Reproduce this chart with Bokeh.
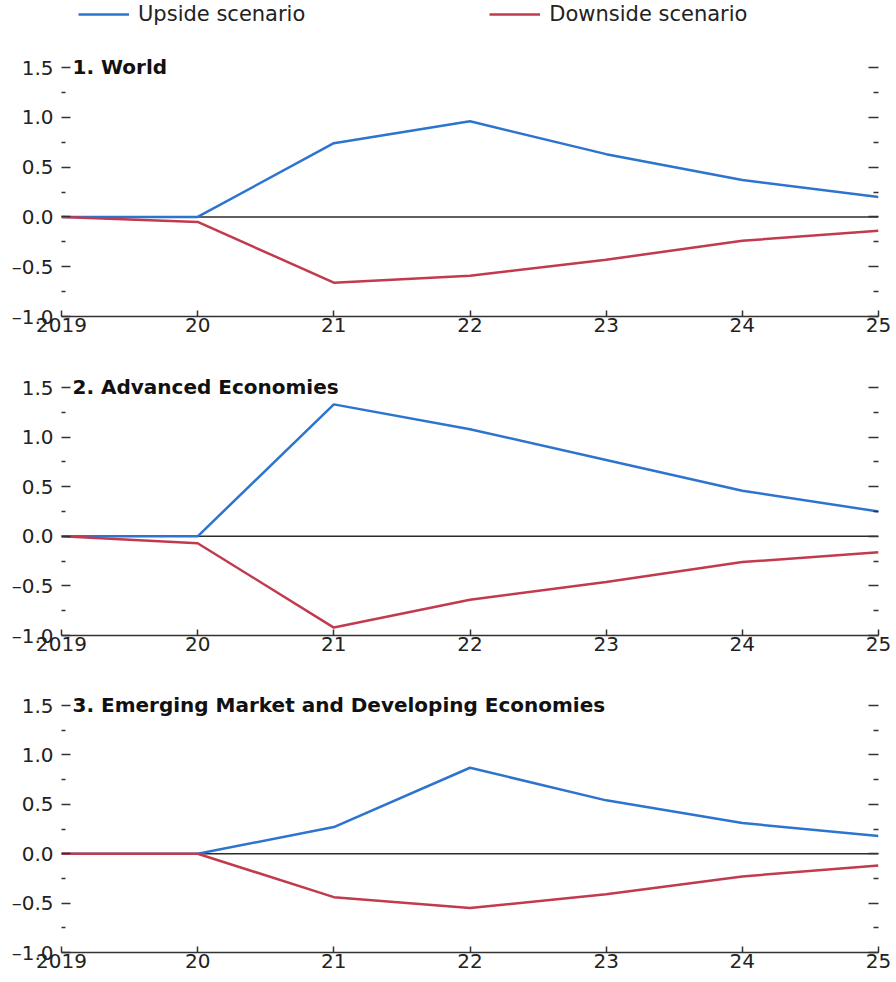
from bokeh.plotting import figure
from bokeh.layouts import column
from bokeh.models import Range1d, FixedTicker, LinearAxis, Span, Legend, LegendItem, Title
from bokeh.embed import file_html
from bokeh.resources import INLINE

# ---------------- data ----------------
years = [2019, 2020, 2021, 2022, 2023, 2024, 2025]
year_labels = ["2019", "20", "21", "22", "23", "24", "25"]
y_ticks = [-1.0, -0.5, 0.0, 0.5, 1.0, 1.5]
y_tick_labels = ["\u20131.0", "\u20130.5", "0.0", "0.5", "1.0", "1.5"]
y_minor = [-0.75, -0.25, 0.25, 0.75, 1.25]

series_names = ["Upside scenario", "Downside scenario"]
panel_titles = ["1. World", "2. Advanced Economies",
                "3. Emerging Market and Developing  Economies"]

world_up = [0.0, 0.0, 0.74, 0.96, 0.63, 0.37, 0.20]
world_down = [0.0, -0.05, -0.66, -0.59, -0.43, -0.24, -0.14]
adv_up = [0.0, 0.0, 1.33, 1.08, 0.77, 0.46, 0.25]
adv_down = [0.0, -0.07, -0.92, -0.64, -0.46, -0.26, -0.16]
emde_up = [0.0, 0.0, 0.27, 0.87, 0.54, 0.31, 0.18]
emde_down = [0.0, 0.0, -0.44, -0.55, -0.41, -0.23, -0.12]

BLUE = "#2d74cf"
RED = "#c23a4e"
INK = "#222222"
FONT = "DejaVu Sans"
W = 896


def make_panel(title, up, down, height, top, bottom):
    p = figure(width=W, height=height,
               x_range=Range1d(years[0], years[-1]),
               y_range=Range1d(y_ticks[0], y_ticks[-1]),
               output_backend="svg", toolbar_location=None,
               min_border_left=61, min_border_right=18,
               min_border_top=top, min_border_bottom=bottom)
    p.outline_line_color = None
    p.xgrid.visible = False
    p.ygrid.visible = False
    p.background_fill_color = "white"
    p.border_fill_color = "white"

    p.add_layout(Span(location=0, dimension="width", line_color="#2b2b2b",
                      line_width=1.5, level="underlay"))

    p.line(years, up, line_color=BLUE, line_width=2.5)
    p.line(years, down, line_color=RED, line_width=2.5)

    xa = p.xaxis[0]
    xa.ticker = FixedTicker(ticks=years, minor_ticks=[])
    xa.major_label_overrides = {y: l for y, l in zip(years, year_labels)}
    xa.axis_line_color = "#333333"
    xa.axis_line_width = 1.5
    xa.major_tick_in = 6
    xa.major_tick_out = 0
    xa.major_tick_line_color = "#333333"
    xa.major_tick_line_width = 1.5
    xa.minor_tick_line_color = None
    xa.major_label_standoff = 1
    xa.major_label_text_font = FONT
    xa.major_label_text_font_size = "20px"
    xa.major_label_text_color = INK

    ya = p.yaxis[0]
    ya.ticker = FixedTicker(ticks=y_ticks, minor_ticks=y_minor)
    ya.major_label_overrides = {t: l for t, l in zip(y_ticks, y_tick_labels)}
    ya.axis_line_color = None
    ya.major_tick_in = 9
    ya.major_tick_out = 0
    ya.minor_tick_in = 4
    ya.minor_tick_out = 0
    ya.major_tick_line_color = "#333333"
    ya.minor_tick_line_color = "#333333"
    ya.major_tick_line_width = 1.5
    ya.minor_tick_line_width = 1.5
    ya.major_label_standoff = 8
    ya.major_label_text_font = FONT
    ya.major_label_text_font_size = "20px"
    ya.major_label_text_color = INK

    ra = LinearAxis(ticker=FixedTicker(ticks=y_ticks, minor_ticks=y_minor))
    ra.major_label_overrides = {t: "" for t in y_ticks}
    ra.axis_line_color = None
    ra.major_tick_in = 10
    ra.major_tick_out = 0
    ra.minor_tick_in = 5
    ra.minor_tick_out = 0
    ra.major_tick_line_color = "#333333"
    ra.minor_tick_line_color = "#333333"
    ra.major_tick_line_width = 1.5
    ra.minor_tick_line_width = 1.5
    ra.major_label_standoff = 0
    ra.major_label_text_font_size = "1px"
    p.add_layout(ra, "right")

    p.title = Title(text=title, align="left", offset=11, standoff=-22,
                    text_font=FONT, text_font_style="bold",
                    text_font_size="20px", text_color="#111111")
    return p


# legend row
leg = figure(width=W, height=30, output_backend="svg", toolbar_location=None,
             x_axis_type=None, y_axis_type=None, min_border=0,
             min_border_left=0, min_border_right=0, min_border_top=0, min_border_bottom=0,
             x_range=Range1d(0, 1), y_range=Range1d(0, 1))
leg.outline_line_color = None
r_up = leg.line(years, world_up, line_color=BLUE, line_width=2.6)
r_dn = leg.line(years, world_down, line_color=RED, line_width=2.6)
legend = Legend(items=[LegendItem(label=series_names[0], renderers=[r_up]),
                       LegendItem(label=series_names[1], renderers=[r_dn])],
                orientation="horizontal", location=(17, 4), padding=0, margin=0,
                spacing=184, glyph_width=51, glyph_height=20, label_standoff=9,
                label_width=160, label_text_font=FONT, label_text_font_size="21px",
                label_text_color=INK, border_line_color=None,
                background_fill_alpha=0)
leg.add_layout(legend)

p1 = make_panel(panel_titles[0], world_up, world_down, 329, 37, 43)
p2 = make_panel(panel_titles[1], adv_up, adv_down, 318, 28, 42)
p3 = make_panel(panel_titles[2], emde_up, emde_down, 304, 28, 29)

layout = column(leg, p1, p2, p3)

with open("out.html", "w") as f:
    f.write(file_html(layout, INLINE))
